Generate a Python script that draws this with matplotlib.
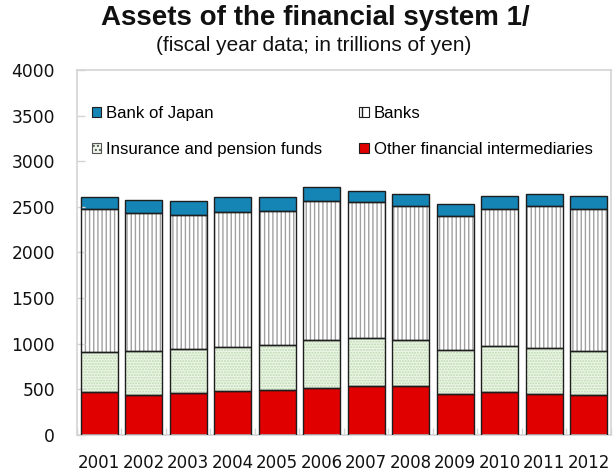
#!/usr/bin/env python3
"""Stacked bars: assets of the Japanese financial system by sector, FY2001-2012."""

import numpy as np
import matplotlib
matplotlib.use("Agg")
import matplotlib.pyplot as plt
from matplotlib.patches import Patch

# ---------------------------------------------------------------------------
# Data (trillions of yen, fiscal years)
# ---------------------------------------------------------------------------
years = ["2001", "2002", "2003", "2004", "2005", "2006",
         "2007", "2008", "2009", "2010", "2011", "2012"]
other_fi = np.array([471, 442, 457, 479, 493, 518, 534, 534, 449, 471, 449, 435])
insurance = np.array([442, 482, 482, 482, 490, 523, 526, 507, 483, 501, 501, 489])
banks = np.array([1560, 1506, 1475, 1486, 1469, 1527, 1490, 1472, 1472, 1501, 1556, 1549])
boj = np.array([132, 145, 150, 158, 153, 153, 124, 125, 131, 143, 139, 150])

# ---------------------------------------------------------------------------
# Style
# ---------------------------------------------------------------------------
BLUE = "#1585B5"
RED = "#E00000"
INS_FACE = "#EDF6E8"
INS_DOTS = "#BBDAAE"
BANK_LINES = "#A0A0A0"
EDGE = "#1E1E1E"
AXIS_GRAY = "#D4D4D4"
TEXT = "#111111"

plt.rcParams["hatch.linewidth"] = 1.0

fig = plt.figure(figsize=(6.13, 4.74), dpi=100)
ax = fig.add_axes([0.1256, 0.0823, 0.871, 0.770])

x = np.arange(len(years))
width = 0.83


def stacked(values, bottom, face, hatch=None, hatch_color=None):
    # hatch layer first (hatch takes the edge colour), then a dark outline on top
    if hatch:
        ax.bar(x, values, width, bottom=bottom, color=face, hatch=hatch,
               edgecolor=hatch_color, linewidth=0, zorder=2)
    else:
        ax.bar(x, values, width, bottom=bottom, color=face, linewidth=0, zorder=2)
    ax.bar(x, values, width, bottom=bottom, fill=False,
           edgecolor=EDGE, linewidth=1.0, zorder=3)


base = np.zeros(len(years))
stacked(other_fi, base, RED)
base = base + other_fi
stacked(insurance, base, INS_FACE, hatch="......", hatch_color=INS_DOTS)
base = base + insurance
stacked(banks, base, "white", hatch="||||", hatch_color=BANK_LINES)
base = base + banks
stacked(boj, base, BLUE)

ax.set_xlim(-0.5, len(years) - 0.5)
ax.set_ylim(0, 4000)
ax.set_yticks(np.arange(0, 4001, 500))

ax.set_xticks(x)
ax.set_xticklabels(years)
ax.set_xticks(np.arange(-0.5, len(years) + 0.5, 1.0), minor=True)
ax.tick_params(axis="x", which="major", length=0, pad=14,
               labelsize=12, labelcolor=TEXT)
ax.tick_params(axis="x", which="minor", direction="in", length=5,
               color=AXIS_GRAY, width=1)
ax.tick_params(axis="y", direction="in", length=6, color=AXIS_GRAY, width=1,
               pad=16, labelsize=12.3, labelcolor=TEXT)
for t in ax.get_xticklabels() + ax.get_yticklabels():
    t.set_fontfamily("DejaVu Sans")
for s in ax.spines.values():
    s.set_color(AXIS_GRAY)
    s.set_linewidth(1.2)
ax.set_axisbelow(False)

handles = [
    Patch(facecolor=BLUE, edgecolor=EDGE, linewidth=0.8),
    Patch(facecolor=INS_FACE, edgecolor="#555555", hatch="....", linewidth=0.8),
    Patch(facecolor="white", edgecolor=EDGE, hatch="||", linewidth=0.8),
    Patch(facecolor=RED, edgecolor=EDGE, linewidth=0.8),
]
labels = ["Bank of Japan", "Insurance and pension funds",
          "Banks", "Other financial intermediaries"]
ax.legend(handles, labels, ncols=2, loc="upper left",
          bbox_to_anchor=(0.028, 0.902), borderaxespad=0, borderpad=0,
          frameon=False, handlelength=0.55, handleheight=0.55,
          handletextpad=0.3, columnspacing=2.2, labelspacing=1.25,
          prop={"family": "Liberation Sans", "size": 12.1})

fig.text(0.514, 0.963, "Assets of the financial system 1/", ha="center", va="center",
         fontsize=20, fontweight="bold", family="Liberation Sans", color=TEXT)
fig.text(0.511, 0.905, "(fiscal year data; in trillions of yen)", ha="center",
         va="center", fontsize=15, family="Liberation Sans", color=TEXT)

fig.savefig("out.png", dpi=100, facecolor="white")
